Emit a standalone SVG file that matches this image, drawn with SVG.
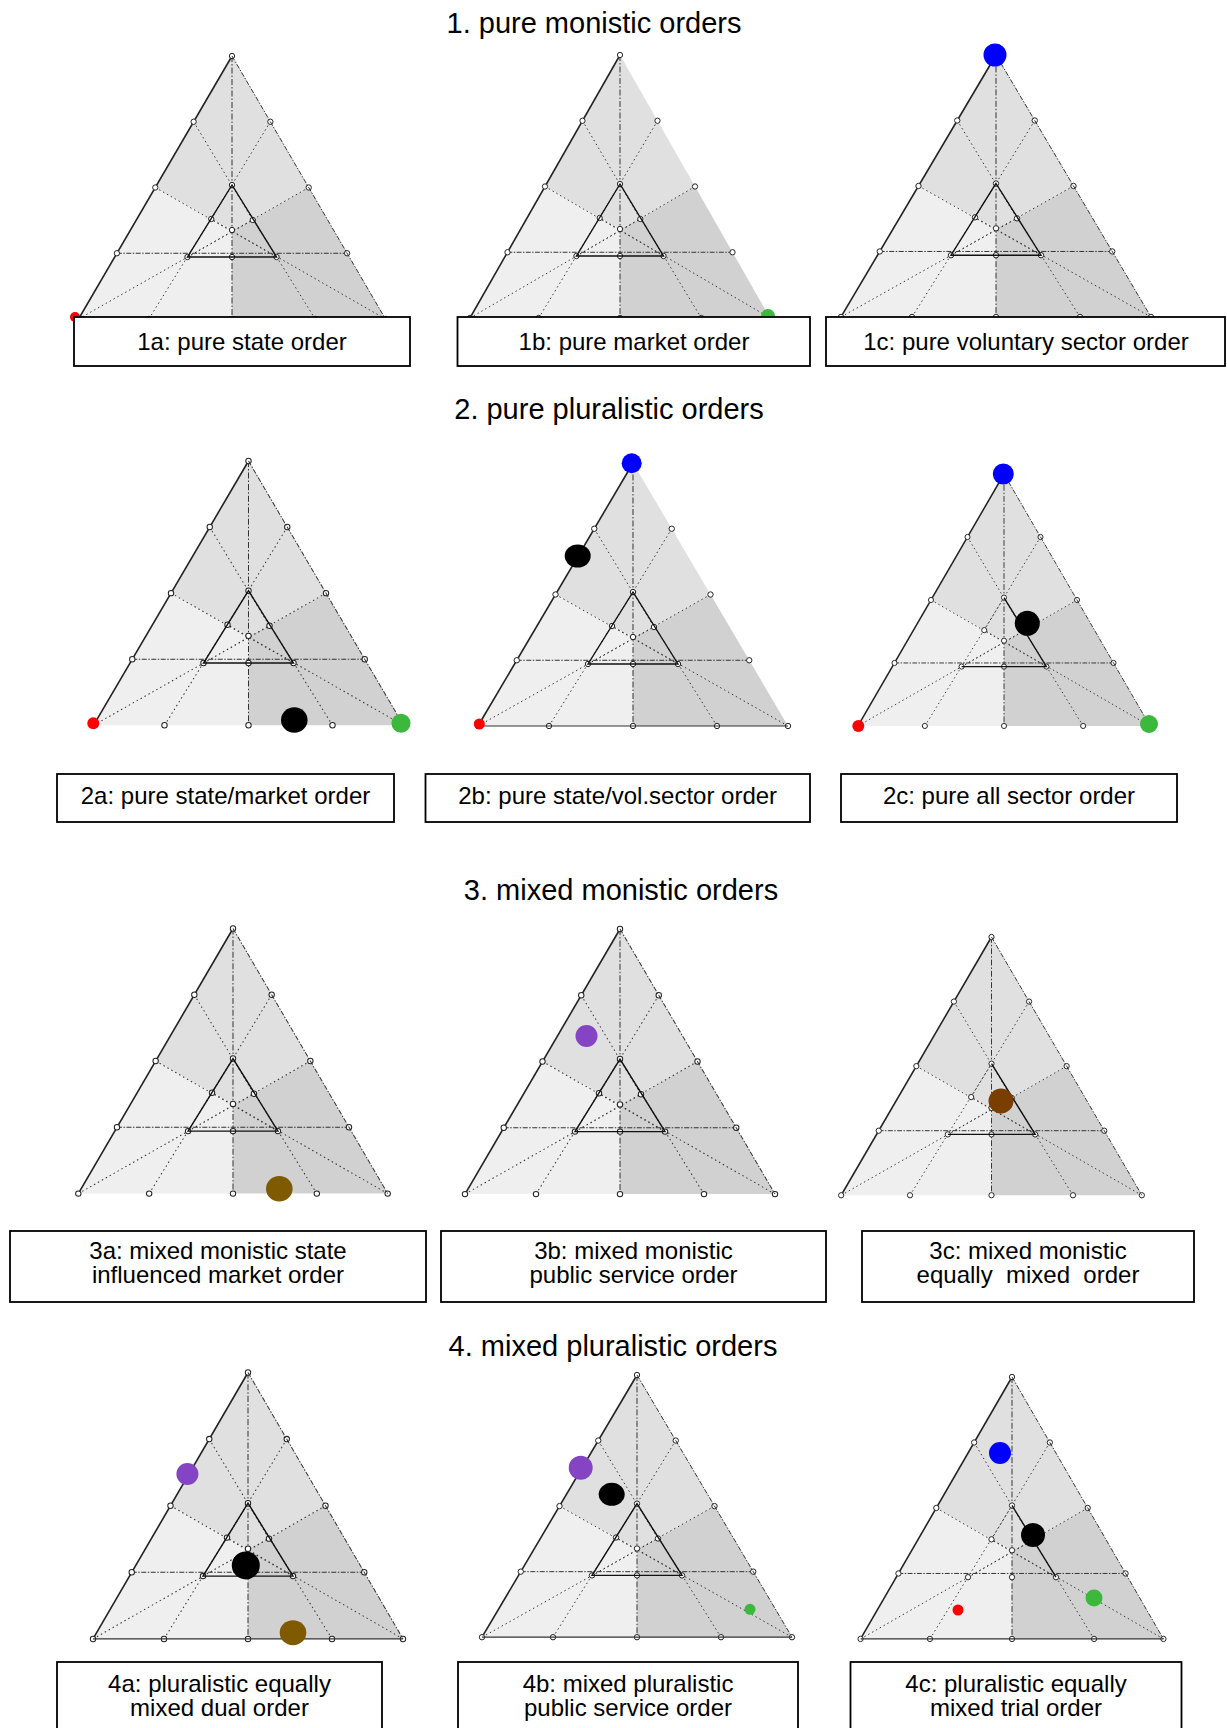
<svg xmlns="http://www.w3.org/2000/svg" width="1227" height="1728" viewBox="0 0 1227 1728">
<style>
text{font-family:"Liberation Sans",Arial,sans-serif;fill:#000;text-anchor:middle}
.title{font-size:29px}
.lbl{font-size:24px}
.box{fill:#fff;stroke:#000;stroke-width:1.8}
.cv{fill:none;stroke:#333;stroke-width:1;stroke-dasharray:1.5 3}
.vt{fill:none;stroke:#333;stroke-width:1;stroke-dasharray:6 2 1.5 2}
.le{fill:none;stroke:#222;stroke-width:1.6}
.re{fill:none;stroke:#333;stroke-width:1;stroke-dasharray:5 1.5 1.5 1.5}
.be{fill:none;stroke:#333;stroke-width:1.2}
.in{fill:none;stroke:#111;stroke-width:1.4}
.pt{fill:#fff;stroke:#222;stroke-width:1}
</style>
<defs>
<g id="tri">
<path d="M0,0 L77.5,131.5 L21,164 L0,174 L-21,163 L-77.5,131.5 Z" fill="#e0e0e0"/>
<path d="M-77.5,131.5 L-155,263 L0,263 L0,174 L-21,163 Z" fill="#efefef"/>
<path d="M77.5,131.5 L155,263 L0,263 L0,174 L21,164 Z" fill="#d1d1d1"/>
<path class="vt" d="M0,0 V263"/>
<path class="cv" d="M-38.75,65.75 L21,164 M38.75,65.75 L-21,163 M-77.5,131.5 L45,201 M77.5,131.5 L-45,201 M-155,263 L21,164 M155,263 L-21,163 M-84,263 L0,129 M84,263 L0,129"/>
<path class="re" d="M-116.25,197.25 H116.25"/>
<path class="le" d="M0,0 L-155,263"/>
<g class="pt">
<circle cx="0" cy="0" r="2.7"/>
<circle cx="-38.75" cy="65.75" r="2.7"/><circle cx="-77.5" cy="131.5" r="2.7"/><circle cx="-116.25" cy="197.25" r="2.7"/>
<circle cx="38.75" cy="65.75" r="2.7"/><circle cx="77.5" cy="131.5" r="2.7"/><circle cx="116.25" cy="197.25" r="2.7"/>
<circle cx="-155" cy="263" r="2.7"/><circle cx="155" cy="263" r="2.7"/>
<circle cx="-84" cy="263" r="2.7"/><circle cx="0" cy="263" r="2.7"/><circle cx="84" cy="263" r="2.7"/>
<circle cx="0" cy="129" r="2.7"/><circle cx="-45" cy="201" r="2.7"/><circle cx="45" cy="201" r="2.7"/>
<circle cx="-21" cy="163" r="2.7"/><circle cx="21" cy="164" r="2.7"/><circle cx="0" cy="174" r="2.7"/><circle cx="0" cy="201" r="2.7"/>
</g>
</g>
<path id="inner" class="in" d="M0,129 L-45,201 L45,201 Z"/>
<path id="innerRB" class="in" d="M0,129 L45,201 L-45,201"/>
<path id="innerR" class="in" d="M0,129 L45,201"/>
<path id="redge" class="re" d="M0,0 L155,263"/>
<path id="base" class="be" d="M-155,263 H155"/>
</defs>

<text class="title" x="594" y="33">1. pure monistic orders</text>
<text class="title" x="609" y="419">2. pure pluralistic orders</text>
<text class="title" x="621" y="900">3. mixed monistic orders</text>
<text class="title" x="613" y="1356">4. mixed pluralistic orders</text>

<g id="p1a">
<g transform="translate(232,56) scale(0.99,1)"><use href="#tri"/><use href="#inner"/><use href="#redge"/></g>
<circle cx="75" cy="317" r="5" fill="#f00"/>
<rect class="box" x="74" y="317" width="336" height="49"/>
<text class="lbl" x="242" y="350">1a: pure state order</text>
</g>
<g id="p1b">
<g transform="translate(620,55) scale(0.968,1)"><use href="#tri"/><use href="#inner"/></g>
<circle cx="768" cy="316" r="7" fill="#3cb83c"/>
<rect class="box" x="457.5" y="317" width="352.5" height="49"/>
<text class="lbl" x="634" y="350">1b: pure market order</text>
</g>
<g id="p1c">
<g transform="translate(996,55) scale(1,0.996)"><use href="#tri"/><use href="#inner"/><use href="#redge"/></g>
<circle cx="995" cy="55" r="11.5" fill="#00f"/>
<rect class="box" x="826" y="317" width="399" height="49"/>
<text class="lbl" x="1026" y="350">1c: pure voluntary sector order</text>
</g>

<g id="p2a">
<g transform="translate(248.5,461) scale(1,1.005)"><use href="#tri"/><use href="#inner"/><use href="#redge"/></g>
<circle cx="93.3" cy="723.3" r="6" fill="#f00"/>
<ellipse cx="294.3" cy="720" rx="13.3" ry="12.7" fill="#000"/>
<circle cx="401" cy="723.3" r="9.5" fill="#3cb83c"/>
<rect class="box" x="57" y="774" width="337" height="48"/>
<text class="lbl" x="225.5" y="804">2a: pure state/market order</text>
</g>
<g id="p2b">
<g transform="translate(633,463)"><use href="#tri"/><use href="#inner"/><use href="#base"/></g>
<circle cx="631.7" cy="463.3" r="10" fill="#00f"/>
<ellipse cx="577.7" cy="556" rx="13" ry="11.5" fill="#000"/>
<circle cx="479.3" cy="724" r="5.5" fill="#f00"/>
<rect class="box" x="425.5" y="774" width="384.5" height="48"/>
<text class="lbl" x="617.7" y="804">2b: pure state/vol.sector order</text>
</g>
<g id="p2c">
<g transform="translate(1004,474) scale(0.942,0.958)"><use href="#tri"/><use href="#innerRB"/><use href="#redge"/></g>
<circle cx="1003.3" cy="474" r="10.5" fill="#00f"/>
<circle cx="1027.3" cy="623.3" r="12.5" fill="#000"/>
<circle cx="858.3" cy="726" r="6" fill="#f00"/>
<circle cx="1149" cy="724" r="9" fill="#3cb83c"/>
<rect class="box" x="841" y="774" width="336" height="48"/>
<text class="lbl" x="1009" y="804">2c: pure all sector order</text>
</g>

<g id="p3a">
<g transform="translate(233,928.5) scale(0.998,1.008)"><use href="#tri"/><use href="#inner"/><use href="#redge"/></g>
<ellipse cx="279.3" cy="1188.7" rx="13.3" ry="12.8" fill="#7f5a00"/>
<rect class="box" x="10" y="1231" width="416" height="71"/>
<text class="lbl" x="218" y="1259">3a: mixed monistic state</text>
<text class="lbl" x="218" y="1283">influenced market order</text>
</g>
<g id="p3b">
<g transform="translate(620,929) scale(1,1.008)"><use href="#tri"/><use href="#inner"/><use href="#redge"/></g>
<circle cx="586.5" cy="1036" r="11" fill="#8444c4"/>
<rect class="box" x="441" y="1231" width="385" height="71"/>
<text class="lbl" x="633.5" y="1259">3b: mixed monistic</text>
<text class="lbl" x="633.5" y="1283">public service order</text>
</g>
<g id="p3c">
<g transform="translate(991.5,937) scale(0.97,0.982)"><use href="#tri"/><use href="#innerRB"/><use href="#redge"/></g>
<circle cx="1001" cy="1101" r="12.5" fill="#7a3e00"/>
<rect class="box" x="862" y="1231" width="332" height="71"/>
<text class="lbl" x="1028" y="1259">3c: mixed monistic</text>
<text class="lbl" x="1028" y="1283" xml:space="preserve" style="white-space:pre">equally  mixed  order</text>
</g>

<g id="p4a">
<g transform="translate(248,1372.5) scale(1,1.013)"><use href="#tri"/><use href="#inner"/><use href="#redge"/><use href="#base"/></g>
<circle cx="187.4" cy="1474" r="11" fill="#8444c4"/>
<circle cx="245.8" cy="1565.4" r="14" fill="#000"/>
<ellipse cx="293" cy="1632.7" rx="13.3" ry="12.5" fill="#7f5a00"/>
<rect class="box" x="57" y="1662" width="325" height="80"/>
<text class="lbl" x="219.5" y="1692">4a: pluralistic equally</text>
<text class="lbl" x="219.5" y="1716">mixed dual order</text>
</g>
<g id="p4b">
<g transform="translate(637,1375) scale(1,0.997)"><use href="#tri"/><use href="#inner"/><use href="#redge"/><use href="#base"/></g>
<circle cx="580.7" cy="1467.7" r="12" fill="#8444c4"/>
<ellipse cx="611.7" cy="1494.3" rx="13" ry="11.5" fill="#000"/>
<circle cx="750" cy="1609.3" r="5.5" fill="#3cb83c"/>
<rect class="box" x="458" y="1662" width="340" height="80"/>
<text class="lbl" x="628" y="1692">4b: mixed pluralistic</text>
<text class="lbl" x="628" y="1716">public service order</text>
</g>
<g id="p4c">
<g transform="translate(1012,1377) scale(0.977,0.996)"><use href="#tri"/><use href="#innerR"/><use href="#redge"/><use href="#base"/></g>
<circle cx="1000" cy="1453" r="11" fill="#00f"/>
<circle cx="1033" cy="1535" r="12" fill="#000"/>
<circle cx="1094" cy="1598" r="8.5" fill="#3cb83c"/>
<circle cx="958" cy="1610" r="5.5" fill="#f00"/>
<rect class="box" x="850.5" y="1662" width="331" height="80"/>
<text class="lbl" x="1016" y="1692">4c: pluralistic equally</text>
<text class="lbl" x="1016" y="1716">mixed trial order</text>
</g>
</svg>
